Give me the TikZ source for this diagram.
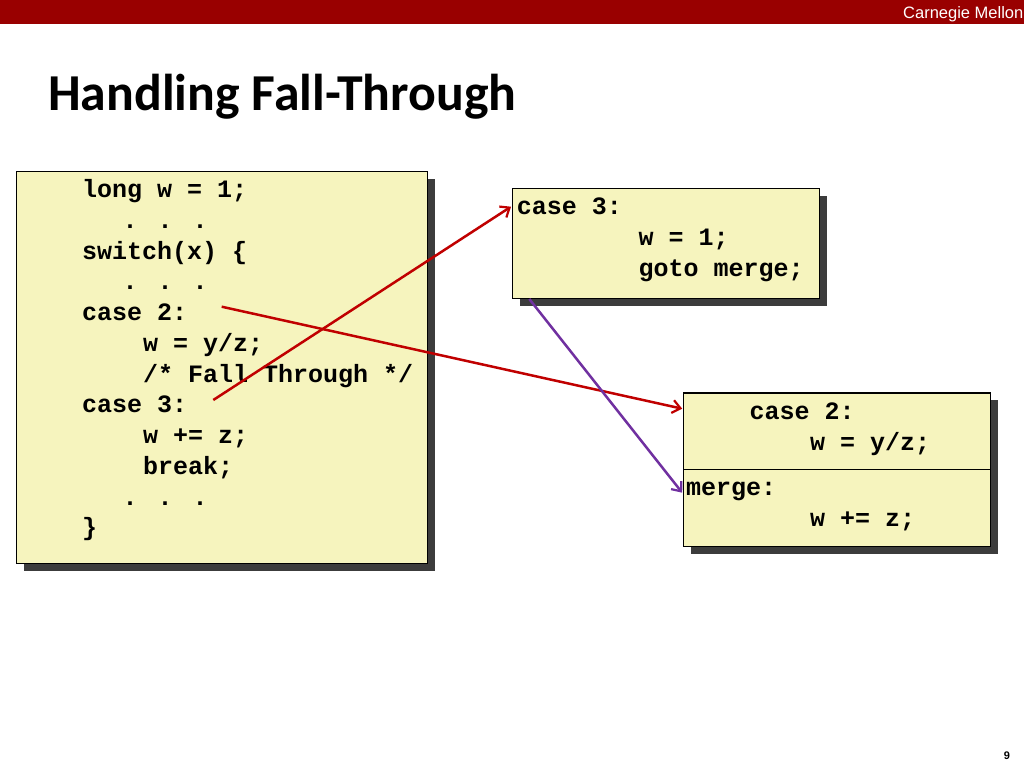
\documentclass[tikz,border=0pt]{standalone}
\usepackage{fontspec}
\setmainfont{Liberation Sans}
\newfontfamily\codefont{Liberation Mono}
\newfontfamily\titlefont{Carlito}
\usetikzlibrary{arrows.meta,shadows}
\definecolor{cmured}{HTML}{990000}
\definecolor{boxfill}{HTML}{F6F4BE}
\definecolor{shadowgray}{HTML}{3C3C3C}
\definecolor{arrowred}{HTML}{C00000}
\definecolor{arrowpurple}{HTML}{7030A0}
\begin{document}
\begin{tikzpicture}[x=1pt,y=-1pt,
  code/.style={anchor=base west, inner sep=0pt, font=\codefont\bfseries\fontsize{25}{25}\selectfont},
  codebox/.style={draw=black, line width=1.2pt, fill=boxfill, anchor=north west, inner sep=0pt,
    drop shadow={shadow xshift=7.5pt, shadow yshift=-7.5pt, fill=shadowgray, opacity=1}},
  jump/.style={line width=2.5pt, -{Straight Barb[length=8pt,width=13pt,line width=2.2pt]}}]
\useasboundingbox (0,0) rectangle (1024,768);
% header
\fill[cmured] (0,0) rectangle (1024,24.5);
\node[anchor=base west, inner sep=0pt, text=white, font=\fontsize{16.5}{16.5}\selectfont] (brand) at (903,18.5) {Carnegie Mellon};
\node[anchor=base west, inner sep=0pt, font=\titlefont\bfseries\fontsize{51.8}{51.8}\selectfont] (title) at (48,110) {Handling Fall-Through};
\node[anchor=base, inner sep=0pt, font=\bfseries\fontsize{11}{11}\selectfont] (page) at (1007,759) {9};
% boxes
\node[codebox, minimum width=411pt, minimum height=392pt] (left) at (15.5,170.5) {};
\node[codebox, minimum width=307.5pt, minimum height=110.5pt] (top) at (511.7,187.7) {};
\node[codebox, minimum width=307.3pt, minimum height=76.7pt] (c2box) at (682.7,392.3) {};
\node[codebox, minimum width=307.3pt, minimum height=77pt] (mbox) at (682.7,469) {};
% left code
\node[code] (l1) at (82,197.5) {long w = 1;};
\node[code] (l2) at (122.5,228.25) {. . .};
\node[code] (l3) at (82,259) {switch(x) \{};
\node[code] (l4) at (122.5,289.75) {. . .};
\node[code] (l5) at (82,320.5) {case 2:};
\node[code] (l6) at (143,351.25) {w = y/z;};
\node[code] (l7) at (143,382) {/* Fall Through */};
\node[code] (l8) at (82,412.75) {case 3:};
\node[code] (l9) at (143,443.5) {w += z;};
\node[code] (l10) at (143,474.25) {break;};
\node[code] (l11) at (122.5,505) {. . .};
\node[code] (l12) at (82,535.75) {\}};
% top right code
\node[code] (t1) at (516.7,214.3) {case 3:};
\node[code] (t2) at (638.3,245) {w = 1;};
\node[code] (t3) at (638.3,276) {goto merge;};
% bottom right code
\node[code] (b1) at (749.3,419.3) {case 2:};
\node[code] (b2) at (810,450) {w = y/z;};
\node[code] (b3) at (686,495) {merge:};
\node[code] (b4) at (810,526) {w += z;};
% connectors
\coordinate (from2) at (221.7,306.7);
\coordinate (to2) at (682.2,408.7);
\coordinate (from3) at (213.3,400);
\coordinate (to3) at (511,206.7);
\coordinate (fromg) at (529.3,299);
\coordinate (tog) at (682.2,492.7);
\draw[jump, arrowred] (from2) -- (to2);
\draw[jump, arrowred] (from3) -- (to3);
\draw[jump, arrowpurple] (fromg) -- (tog);
\end{tikzpicture}
\end{document}
